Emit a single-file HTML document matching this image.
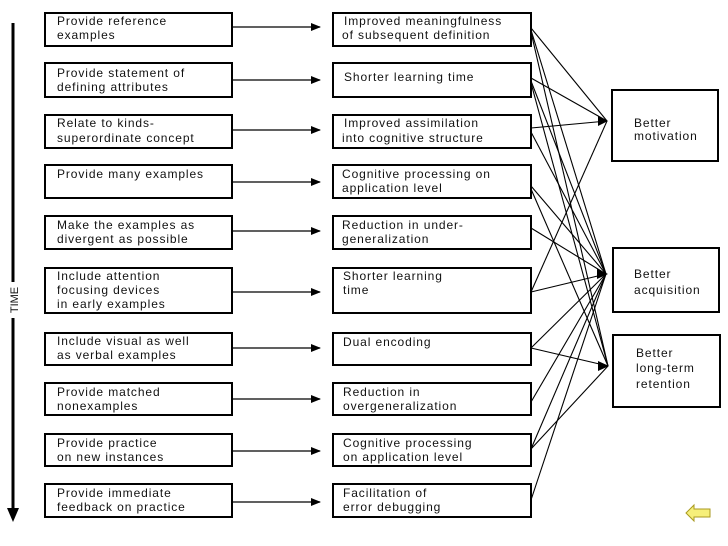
<!DOCTYPE html>
<html><head><meta charset="utf-8"><style>
html,body{margin:0;padding:0;background:#fff;}
svg{display:block}
text{font-family:"Liberation Sans",sans-serif;font-size:12px;letter-spacing:0.9px;fill:#111;}
</style></head><body>
<svg width="728" height="546" viewBox="0 0 728 546" xmlns="http://www.w3.org/2000/svg">
<defs>
<marker id="a" markerWidth="10" markerHeight="8" refX="9" refY="4" orient="auto" markerUnits="userSpaceOnUse">
<path d="M0,0 L10,4 L0,8 Z" fill="#000"/></marker>
</defs>
<!-- time axis -->
<line x1="13" y1="23" x2="13" y2="282" stroke="#000" stroke-width="3"/>
<line x1="13" y1="318" x2="13" y2="512" stroke="#000" stroke-width="3"/>
<path d="M7,508 L19,508 L13,522 Z" fill="#000"/>
<text transform="translate(18,300) rotate(-90)" text-anchor="middle" style="font-size:11px;letter-spacing:0">TIME</text>

<g fill="none" stroke="#000" stroke-width="2">
<rect x="45" y="13" width="187" height="33"/>
<rect x="45" y="63" width="187" height="34"/>
<rect x="45" y="115" width="187" height="33"/>
<rect x="45" y="165" width="187" height="33"/>
<rect x="45" y="216" width="187" height="33"/>
<rect x="45" y="268" width="187" height="45"/>
<rect x="45" y="333" width="187" height="32"/>
<rect x="45" y="383" width="187" height="32"/>
<rect x="45" y="434" width="187" height="32"/>
<rect x="45" y="484" width="187" height="33"/>

<rect x="333" y="13" width="198" height="33"/>
<rect x="333" y="63" width="198" height="34"/>
<rect x="333" y="115" width="198" height="33"/>
<rect x="333" y="165" width="198" height="33"/>
<rect x="333" y="216" width="198" height="33"/>
<rect x="333" y="268" width="198" height="45"/>
<rect x="333" y="333" width="198" height="32"/>
<rect x="333" y="383" width="198" height="32"/>
<rect x="333" y="434" width="198" height="32"/>
<rect x="333" y="484" width="198" height="33"/>

<rect x="612" y="90" width="106" height="71"/>
<rect x="613" y="248" width="106" height="64"/>
<rect x="613" y="335" width="107" height="72"/>
</g>

<g stroke="#000" stroke-width="1.3" marker-end="url(#a)">
<line x1="232" y1="27" x2="320" y2="27"/>
<line x1="232" y1="80" x2="320" y2="80"/>
<line x1="232" y1="130" x2="320" y2="130"/>
<line x1="232" y1="182" x2="320" y2="182"/>
<line x1="232" y1="231" x2="320" y2="231"/>
<line x1="232" y1="292" x2="320" y2="292"/>
<line x1="232" y1="348" x2="320" y2="348"/>
<line x1="232" y1="399" x2="320" y2="399"/>
<line x1="232" y1="451" x2="320" y2="451"/>
<line x1="232" y1="502" x2="320" y2="502"/>
</g>

<g stroke="#000" stroke-width="1.1" fill="none">
<line x1="531" y1="28" x2="607" y2="121"/>
<line x1="531" y1="30" x2="606" y2="274"/>
<line x1="531" y1="32" x2="608" y2="366"/>
<line x1="531" y1="78" x2="607" y2="121"/>
<line x1="531" y1="81" x2="606" y2="274"/>
<line x1="531" y1="83" x2="608" y2="366"/>
<line x1="531" y1="128" x2="607" y2="121"/>
<line x1="531" y1="132" x2="606" y2="274"/>
<line x1="531" y1="186" x2="606" y2="274"/>
<line x1="531" y1="189" x2="608" y2="366"/>
<line x1="531" y1="228" x2="606" y2="274"/>
<line x1="531" y1="292" x2="607" y2="121"/>
<line x1="531" y1="292" x2="606" y2="274"/>
<line x1="531" y1="348" x2="606" y2="274"/>
<line x1="531" y1="348" x2="608" y2="366"/>
<line x1="531" y1="402" x2="606" y2="274"/>
<line x1="531" y1="449" x2="606" y2="274"/>
<line x1="531" y1="449" x2="608" y2="366"/>
<line x1="531" y1="500" x2="606" y2="274"/>
</g>
<path d="M598,116 L608,121 L598,126 Z" fill="#000"/>
<path d="M597,269 L608,274 L597,279 Z" fill="#000"/>
<path d="M598,361 L609,366 L598,371 Z" fill="#000"/>

<text x="57" y="25">Provide reference</text><text x="57" y="39">examples</text>
<text x="57" y="77">Provide statement of</text><text x="57" y="91">defining attributes</text>
<text x="57" y="127">Relate to kinds-</text><text x="57" y="142">superordinate concept</text>
<text x="57" y="178">Provide many examples</text>
<text x="57" y="229">Make the examples as</text><text x="57" y="243">divergent as possible</text>
<text x="57" y="280">Include attention</text><text x="57" y="294">focusing devices</text><text x="57" y="308">in early examples</text>
<text x="57" y="345">Include visual as well</text><text x="57" y="359">as verbal examples</text>
<text x="57" y="396">Provide matched</text><text x="57" y="410">nonexamples</text>
<text x="57" y="447">Provide practice</text><text x="57" y="461">on new instances</text>
<text x="57" y="497">Provide immediate</text><text x="57" y="511">feedback on practice</text>

<text x="344" y="25">Improved meaningfulness</text><text x="342" y="39">of subsequent definition</text>
<text x="344" y="81">Shorter learning time</text>
<text x="344" y="127">Improved assimilation</text><text x="342" y="142">into cognitive structure</text>
<text x="342" y="178">Cognitive processing on</text><text x="342" y="192">application level</text>
<text x="342" y="229">Reduction in under-</text><text x="342" y="243">generalization</text>
<text x="343" y="280">Shorter learning</text><text x="343" y="294">time</text>
<text x="343" y="346">Dual encoding</text>
<text x="343" y="396">Reduction in</text><text x="343" y="410">overgeneralization</text>
<text x="343" y="447">Cognitive processing</text><text x="343" y="461">on application level</text>
<text x="343" y="497">Facilitation of</text><text x="343" y="511">error debugging</text>

<text x="634" y="127">Better</text><text x="634" y="140">motivation</text>
<text x="634" y="278">Better</text><text x="634" y="294">acquisition</text>
<text x="636" y="357">Better</text><text x="636" y="372">long-term</text><text x="636" y="388">retention</text>

<path d="M686,513 L694,505 L694,509 L710,509 L710,517 L694,517 L694,521 Z" fill="#f6ef7a" stroke="#a99a20" stroke-width="1"/>
</svg>
</body></html>
